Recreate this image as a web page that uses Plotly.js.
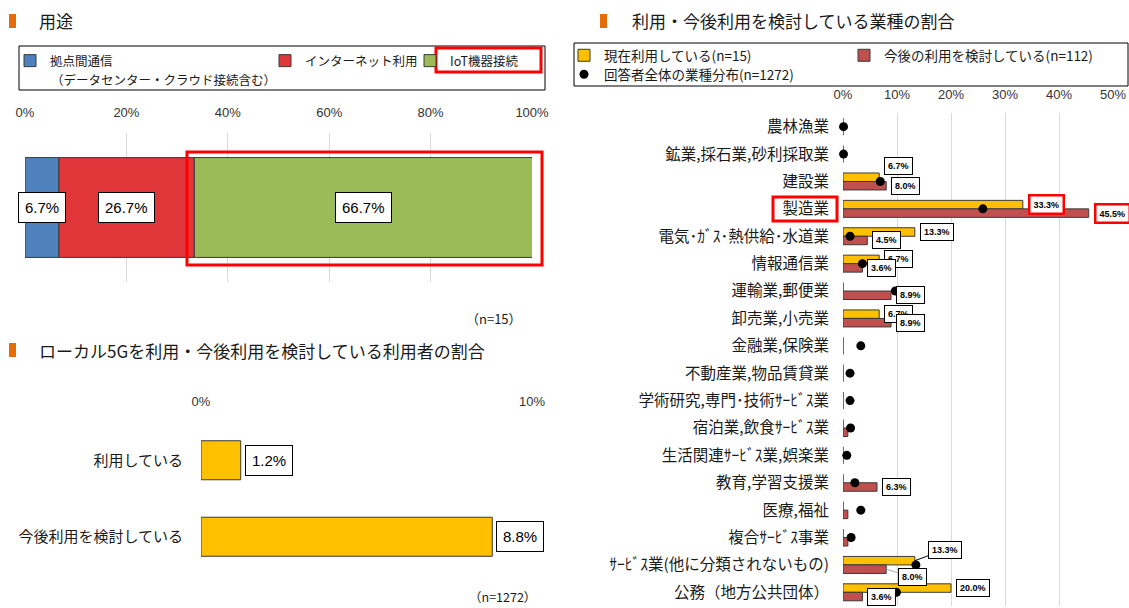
<!DOCTYPE html>
<html><head><meta charset="utf-8">
<script src="https://cdn.plot.ly/plotly-3.0.1.min.js"></script>
<style>html,body{margin:0;padding:0;background:#fff}#chart{width:1129px;height:608px}</style>
</head><body><div id="chart"></div>
<script>
// ---------------- Data ----------------
const useTitle = '用途';
const useCategory = ['用途'];
const useNames = ['拠点間通信', 'インターネット利用', 'IoT機器接続'];
const useNameNote = '（データセンター・クラウド接続含む）';
const useValues = [6.7, 26.7, 66.7];
const useN = '（n=15）';
const axis1Ticks = [0, 20, 40, 60, 80, 100];

const userTitle = 'ローカル5Gを利用・今後利用を検討している利用者の割合';
const userCategories = ['利用している', '今後利用を検討している'];
const userValues = [1.2, 8.8];
const userN = '（n=1272）';
const axis2Ticks = [0, 10];

const industryTitle = '利用・今後利用を検討している業種の割合';
const industryCategories = [
  '農林漁業', '鉱業,採石業,砂利採取業', '建設業', '製造業', '電気･ｶﾞｽ･熱供給･水道業',
  '情報通信業', '運輸業,郵便業', '卸売業,小売業', '金融業,保険業', '不動産業,物品賃貸業',
  '学術研究,専門･技術ｻｰﾋﾞｽ業', '宿泊業,飲食ｻｰﾋﾞｽ業', '生活関連ｻｰﾋﾞｽ業,娯楽業', '教育,学習支援業',
  '医療,福祉', '複合ｻｰﾋﾞｽ事業', 'ｻｰﾋﾞｽ業(他に分類されないもの)', '公務（地方公共団体）'
];
const currentUse     = [0, 0, 6.7, 33.3, 13.3, 6.7, 0, 6.7, 0, 0, 0, 0, 0, 0, 0, 0, 13.3, 20.0];
const consideringUse = [0, 0, 8.0, 45.5, 4.5, 3.6, 8.9, 8.9, 0, 0, 0, 0.9, 0, 6.3, 0.9, 0.9, 8.0, 3.6];
const allRespondents = [0.1, 0.1, 6.9, 25.9, 1.3, 3.6, 9.7, 14.0, 3.3, 1.3, 1.3, 1.4, 0.7, 2.2, 3.3, 1.5, 13.5, 9.9];
const industryNames = ['現在利用している(n=15)', '今後の利用を検討している(n=112)', '回答者全体の業種分布(n=1272)'];
const axis3Ticks = [0, 10, 20, 30, 40, 50];

// ---------------- Style ----------------
const W = 1129, H = 608;
const px = x => x / W, py = y => 1 - y / H;
const JP = '"Noto Sans CJK JP", "Noto Sans", sans-serif';
const NUM = '"Liberation Sans", Arial, sans-serif';
const TXT = '#1a1a1a';
const useColors = ['#4F81BD', '#E0363A', '#9BBB59'];
const yellow = '#FFC000', brick = '#C0504D', edge = '#3a3a3a';
const highlightIndustry = '製造業';
const labelNudge = {
  '建設業': { cur: { yshift: 11 } },
  'ｻｰﾋﾞｽ業(他に分類されないもの)': { cur: { arrow: [30, -11] }, con: { arrow: [26, 8] } }
};
const pct = v => v + '%';

// ---------------- Traces ----------------
const traces = [];
let cum = 0;
useValues.forEach((v, i) => {
  traces.push({
    type: 'bar', orientation: 'h', name: useNames[i], y: useCategory, x: [v], base: [cum],
    width: 0.67, offset: -0.335, xaxis: 'x', yaxis: 'y', legend: 'legend',
    legendwidth: i === 0 ? 210 : (i === 1 ? 100 : undefined),
    marker: { color: useColors[i], line: { color: edge, width: 1 } }, hoverinfo: 'x+name'
  });
  cum += v;
});

traces.push({
  type: 'bar', orientation: 'h', y: userCategories, x: userValues, width: 0.51,
  xaxis: 'x2', yaxis: 'y2', showlegend: false,
  marker: { color: yellow, line: { color: edge, width: 1 } }
});

traces.push({
  type: 'bar', orientation: 'h', name: industryNames[0], y: industryCategories, x: currentUse,
  offset: -0.31, width: 0.31, xaxis: 'x3', yaxis: 'y3', legend: 'legend2',
  marker: { color: yellow, line: { color: edge, width: 1 } }
});
traces.push({
  type: 'bar', orientation: 'h', name: industryNames[1], y: industryCategories, x: consideringUse,
  offset: 0, width: 0.31, xaxis: 'x3', yaxis: 'y3', legend: 'legend2',
  marker: { color: brick, line: { color: edge, width: 1 } }
});
traces.push({
  type: 'scatter', mode: 'markers', name: industryNames[2], y: industryCategories, x: allRespondents,
  xaxis: 'x3', yaxis: 'y3', legend: 'legend3', cliponaxis: false,
  marker: { color: '#000', size: 9 }
});

// ---------------- Annotations ----------------
const ann = [];
const titleFont = { family: JP, size: 17, color: TXT };
ann.push({ xref: 'paper', yref: 'paper', x: px(37), y: py(21), xanchor: 'left', yanchor: 'middle', text: useTitle, showarrow: false, font: titleFont });
ann.push({ xref: 'paper', yref: 'paper', x: px(37), y: py(350), xanchor: 'left', yanchor: 'middle', text: userTitle, showarrow: false, font: titleFont });
ann.push({ xref: 'paper', yref: 'paper', x: px(630), y: py(21), xanchor: 'left', yanchor: 'middle', text: industryTitle, showarrow: false, font: titleFont });
ann.push({ xref: 'paper', yref: 'paper', x: px(49), y: py(79), xanchor: 'left', yanchor: 'middle', text: useNameNote, showarrow: false, font: { family: JP, size: 12.5, color: TXT } });
ann.push({ xref: 'paper', yref: 'paper', x: px(524), y: py(318), xanchor: 'right', yanchor: 'middle', text: useN, showarrow: false, font: { family: JP, size: 13, color: TXT } });
ann.push({ xref: 'paper', yref: 'paper', x: px(538), y: py(596), xanchor: 'right', yanchor: 'middle', text: userN, showarrow: false, font: { family: JP, size: 12.5, color: TXT } });

const bigLabel = { family: NUM, size: 15, color: '#000' };
cum = 0;
useValues.forEach(v => {
  ann.push({ xref: 'x', yref: 'y', x: cum + v / 2, y: useCategory[0], text: v.toFixed(1) + '%', showarrow: false,
    font: bigLabel, bgcolor: '#fff', bordercolor: '#000', borderwidth: 1, borderpad: 6 });
  cum += v;
});
userValues.forEach((v, i) => {
  ann.push({ xref: 'x2', yref: 'y2', x: v, y: userCategories[i], text: v.toFixed(1) + '%', showarrow: false,
    xanchor: 'left', xshift: 4, font: bigLabel, bgcolor: '#fff', bordercolor: '#000', borderwidth: 1, borderpad: 6 });
});
industryCategories.forEach((c, i) => {
  [[currentUse, -0.155, 'cur'], [consideringUse, 0.155, 'con']].forEach(([arr, off, key]) => {
    const v = arr[i];
    if (!(v >= 2)) return;
    const n = (labelNudge[c] || {})[key] || {};
    const hl = c === highlightIndustry;
    const a = { xref: 'x3', yref: 'y3', x: v, y: i + off, text: v.toFixed(1) + '%',
      font: { family: NUM, size: 9, color: '#000', weight: 'bold' }, bgcolor: '#fff',
      bordercolor: hl ? '#ff0000' : '#000', borderwidth: hl ? 2.5 : 1, borderpad: 3 };
    if (n.arrow) {
      Object.assign(a, { showarrow: true, arrowhead: 0, arrowwidth: 1, arrowcolor: key === 'cur' ? '#000' : '#aaa',
        ax: n.arrow[0], ay: n.arrow[1], standoff: 0 });
    } else {
      Object.assign(a, { showarrow: false, xanchor: 'left', xshift: 5 + (n.xshift || 0), yshift: n.yshift || 0 });
    }
    ann.push(a);
  });
});

// ---------------- Shapes ----------------
const orange = '#E46C0A';
const rectPx = (x0, y0, x1, y1, extra) => Object.assign({ type: 'rect', xref: 'paper', yref: 'paper',
  x0: px(x0), x1: px(x1), y0: py(y0), y1: py(y1) }, extra);
const shapes = [
  rectPx(9, 14, 16, 28, { fillcolor: orange, line: { width: 0 } }),
  rectPx(9, 343, 16, 357, { fillcolor: orange, line: { width: 0 } }),
  rectPx(600, 14, 607, 28, { fillcolor: orange, line: { width: 0 } }),
  rectPx(19, 46, 545, 90, { line: { color: '#000', width: 1 }, layer: 'below' }),
  rectPx(574, 43, 1128, 86, { line: { color: '#000', width: 1 }, layer: 'below' }),
  rectPx(436, 48, 541, 72, { line: { color: '#ff0000', width: 3 } }),
  rectPx(187, 152, 542, 265, { line: { color: '#ff0000', width: 3 } }),
  rectPx(773, 197, 837, 221, { line: { color: '#ff0000', width: 3 } })
];

// ---------------- Layout ----------------
const tickStyle = { family: NUM, size: 13, color: '#333' };
const xCommon = { side: 'top', showgrid: true, gridcolor: '#d9d9d9', gridwidth: 1, zeroline: false, showline: false,
  ticks: 'outside', tickcolor: 'rgba(0,0,0,0)', tickfont: tickStyle, fixedrange: true };
const layout = {
  width: W, height: H, margin: { l: 0, r: 0, t: 0, b: 0 },
  paper_bgcolor: '#fff', plot_bgcolor: 'rgba(0,0,0,0)',
  barmode: 'group', font: { family: JP, color: TXT }, hovermode: 'closest',
  xaxis: Object.assign({}, xCommon, { domain: [px(25), px(532)], range: [0, 100], anchor: 'y',
    tickvals: axis1Ticks, ticktext: axis1Ticks.map(pct), ticklen: 10 }),
  yaxis: { domain: [py(282), py(133)], range: [-0.5, 0.5], type: 'category', anchor: 'x',
    showticklabels: false, showgrid: false, zeroline: false, fixedrange: true },
  xaxis2: Object.assign({}, xCommon, { domain: [px(201), px(532)], range: [0, 10], anchor: 'y2',
    tickvals: axis2Ticks, ticktext: axis2Ticks.map(pct), ticklen: 10 }),
  yaxis2: { domain: [py(575), py(422)], range: [1.5, -0.5], type: 'category', anchor: 'x2',
    showgrid: false, zeroline: false, ticks: 'outside', ticklen: 14, tickcolor: 'rgba(0,0,0,0)',
    tickfont: { family: JP, size: 15, color: TXT }, fixedrange: true },
  xaxis3: Object.assign({}, xCommon, { domain: [px(843), px(1113)], range: [0, 50], anchor: 'y3',
    tickvals: axis3Ticks, ticktext: axis3Ticks.map(pct), ticklen: 8 }),
  yaxis3: { domain: [py(606), py(113)], range: [17.5, -0.5], type: 'category', anchor: 'x3',
    showgrid: false, zeroline: false, ticks: 'outside', ticklen: 10, tickcolor: 'rgba(0,0,0,0)',
    tickfont: { family: JP, size: 15.5, color: TXT }, fixedrange: true },
  legend: { x: px(10), y: py(46), xanchor: 'left', yanchor: 'top', orientation: 'h', valign: 'top',
    bgcolor: 'rgba(0,0,0,0)', borderwidth: 0, font: { family: JP, size: 12.5, color: TXT }, traceorder: 'normal' },
  legend2: { x: px(564), y: py(40), xanchor: 'left', yanchor: 'top', orientation: 'h', entrywidth: 235,
    bgcolor: 'rgba(0,0,0,0)', borderwidth: 0, font: { family: JP, size: 13.5, color: TXT }, traceorder: 'normal' },
  legend3: { x: px(564), y: py(59), xanchor: 'left', yanchor: 'top', orientation: 'h',
    bgcolor: 'rgba(0,0,0,0)', borderwidth: 0, font: { family: JP, size: 13.5, color: TXT } },
  annotations: ann,
  shapes: shapes
};

Plotly.newPlot('chart', traces, layout, { displayModeBar: false, staticPlot: true });
</script>
</body></html>
